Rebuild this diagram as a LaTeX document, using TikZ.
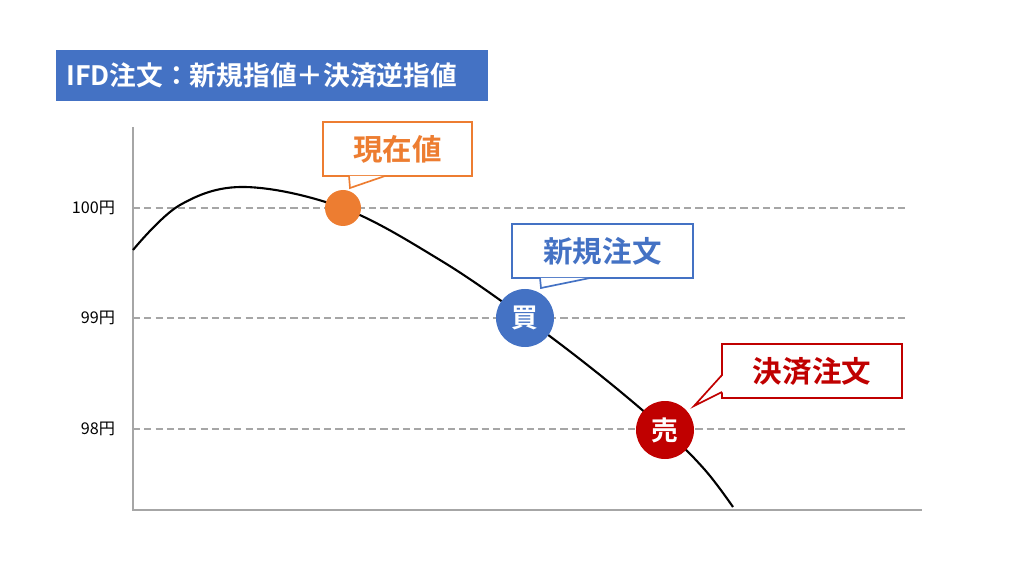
\documentclass[tikz,border=0pt]{standalone}
\usepackage{fontspec}
\setmainfont{Noto Sans CJK JP}[BoldFont={Noto Sans CJK JP Bold}]
\definecolor{cOrange}{HTML}{ED7D31}
\definecolor{cBlue}{HTML}{4472C4}
\definecolor{cRed}{HTML}{C00000}
\tikzset{
  callout/.style={draw=#1,line width=1.2pt,fill=white,text=#1,minimum height=54*0.025cm,font=\fontsize{21}{24}\selectfont\bfseries,inner sep=0pt},
  dot/.style={circle,fill=#1,text=white,inner sep=0pt,font=\fontsize{19}{22}\selectfont\bfseries},
  grid/.style={gray!70,dashed,line width=1pt,dash pattern=on 5pt off 3pt},
  ylab/.style={anchor=east,font=\fontsize{11.5}{13}\selectfont}
}
\begin{document}
\begin{tikzpicture}[x=0.025cm,y=-0.025cm]
\useasboundingbox (0,0) rectangle (1024,576);
% title
\fill[cBlue] (56,50) rectangle (488,101);
\node[anchor=west,text=white,inner sep=0pt,font=\fontsize{19}{22}\selectfont\bfseries] (title) at (66,75.5) {IFD注文：新規指値＋決済逆指値};
% grid
\foreach \y/\t in {208/100,318/99,429/98} {
  \draw[grid] (133,\y) -- (907,\y);
  \node[ylab] at (120,\y) {\t 円};
}
\draw[gray!70,line width=1pt] (133,127) -- (133,510) -- (922,510);
% curve
\draw[line width=1.5pt] plot[smooth,tension=0.6] coordinates {(133,250) (180,205) (245,187) (343,208) (440,260) (525,318) (600,375) (665,430) (705,470) (733,507)};
% points
\node[dot=cOrange,minimum size=36*0.025cm] (now) at (343,208) {};
\node[dot=cBlue,minimum size=58*0.025cm] (buy) at (525,318) {買};
\node[dot=cRed,minimum size=58*0.025cm] (sell) at (665,430) {売};
% callouts
\node[callout=cOrange,minimum width=149*0.025cm] (nowbox) at (397.5,149) {現在値};
\node[callout=cBlue,minimum width=181*0.025cm] (buybox) at (602.5,251) {新規注文};
\node[callout=cRed,minimum width=180*0.025cm] (sellbox) at (812,371) {決済注文};
\coordinate (t1a) at (349,176); \coordinate (t1) at (350,188); \coordinate (t1b) at (385,176);
\coordinate (t2a) at (540,278); \coordinate (t2) at (541,288); \coordinate (t2b) at (590,278);
\coordinate (t3a) at (722,375); \coordinate (t3) at (694,406); \coordinate (t3b) at (722,392);
\fill[white] (t1a) -- (t1) -- (t1b) -- cycle;
\draw[cOrange,line width=1.2pt] (t1a) -- (t1) -- (t1b);
\fill[white] (t2a) -- (t2) -- (t2b) -- cycle;
\draw[cBlue,line width=1.2pt] (t2a) -- (t2) -- (t2b);
\fill[white] ([xshift=1]t3a) -- (t3) -- ([xshift=1]t3b) -- cycle;
\draw[cRed,line width=1.2pt] (t3a) -- (t3) -- (t3b);
\end{tikzpicture}
\end{document}
